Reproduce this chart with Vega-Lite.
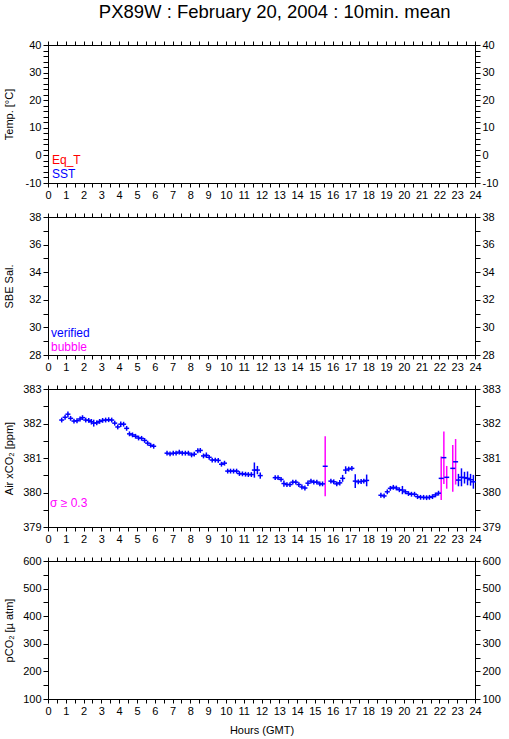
{
  "$schema": "https://vega.github.io/schema/vega-lite/v6.json",
  "padding": {"left": 2, "top": 3, "right": 5, "bottom": 5},
  "title": {"text": "PX89W : February 20, 2004 : 10min. mean", "fontSize": 18.5, "font": "Liberation Sans", "fontWeight": "normal", "anchor": "middle", "dx": 23, "offset": 17, "color": "#000"},
  "spacing": 34,
  "bounds": "flush",
  "resolve": {"scale": {"color": "independent", "x": "independent", "y": "independent"}, "legend": {"color": "independent"}},
  "config": {
    "font": "Liberation Sans",
    "view": {"stroke": "#000", "strokeWidth": 1},
    "axis": {"grid": false, "domainColor": "#000", "tickColor": "#000", "labelColor": "#000", "titleColor": "#000", "labelFont": "Liberation Sans", "titleFont": "Liberation Sans", "labelFontSize": 11, "titleFontSize": 11, "titleFontWeight": "normal", "tickSize": 5, "labelPadding": 2, "labelFlush": false, "labelOverlap": false, "domainWidth": 1, "tickWidth": 1},
    "legend": {"orient": "bottom-left", "title": null, "symbolType": "circle", "symbolSize": 0, "symbolStrokeWidth": 0, "symbolOpacity": 0, "labelOffset": 0, "padding": 0, "offset": 3, "rowPadding": 2, "labelFontSize": 12, "labelFont": "Liberation Sans"}
  },
  "vconcat": [
    {
      "width": 427, "height": 138,
      "data": {"values": [{"series": "Eq_T", "hour": null, "value": null}, {"series": "SST", "hour": null, "value": null}]},
      "layer": [
        {"mark": {"type": "point", "filled": true, "size": 0},
         "encoding": {
           "x": {"field": "hour", "type": "quantitative", "scale": {"domain": [0, 24], "nice": false, "zero": false},
                 "axis": {"orient": "bottom", "title": null, "tickSize": 4, "values": [0,0.5,1,1.5,2,2.5,3,3.5,4,4.5,5,5.5,6,6.5,7,7.5,8,8.5,9,9.5,10,10.5,11,11.5,12,12.5,13,13.5,14,14.5,15,15.5,16,16.5,17,17.5,18,18.5,19,19.5,20,20.5,21,21.5,22,22.5,23,23.5,24], "labelExpr": "datum.value % 1 === 0 ? '' + datum.value : ''"}},
           "y": {"field": "value", "type": "quantitative", "scale": {"domain": [-10, 40], "nice": false, "zero": false},
                 "axis": {"orient": "left", "title": "Temp. [°C]", "titleX": -34, "titleY": 69, "titleAngle": -90, "values": [-10,-8,-6,-4,-2,0,2,4,6,8,10,12,14,16,18,20,22,24,26,28,30,32,34,36,38,40], "labelExpr": "datum.value % 10 === 0 ? '' + datum.value : ''"}},
           "color": {"field": "series", "type": "nominal", "scale": {"domain": ["Eq_T", "SST"], "range": ["#ff0000", "#0000ff"]},
                     "legend": {"offset": 3, "symbolType": "circle", "symbolSize": 0, "encode": {"labels": {"update": {"dx": {"value": -11}, "fill": {"signal": "datum.label === 'Eq_T' ? '#ff0000' : '#0000ff'"}}}}}}
         }},
        {"mark": {"type": "point", "opacity": 0},
         "encoding": {
           "x": {"field": "hour", "type": "quantitative", "axis": {"orient": "top", "title": null, "labels": false, "tickSize": 4, "values": [0,0.5,1,1.5,2,2.5,3,3.5,4,4.5,5,5.5,6,6.5,7,7.5,8,8.5,9,9.5,10,10.5,11,11.5,12,12.5,13,13.5,14,14.5,15,15.5,16,16.5,17,17.5,18,18.5,19,19.5,20,20.5,21,21.5,22,22.5,23,23.5,24]}},
           "y": {"field": "value", "type": "quantitative", "axis": {"orient": "right", "title": null, "values": [-10,-8,-6,-4,-2,0,2,4,6,8,10,12,14,16,18,20,22,24,26,28,30,32,34,36,38,40], "labelExpr": "datum.value % 10 === 0 ? '' + datum.value : ''"}}
         }}
      ],
      "resolve": {"axis": {"x": "independent", "y": "independent"}}
    },
    {
      "width": 427, "height": 138,
      "data": {"values": [{"series": "verified", "hour": null, "value": null}, {"series": "bubble", "hour": null, "value": null}]},
      "layer": [
        {"mark": {"type": "point", "filled": true, "size": 0},
         "encoding": {
           "x": {"field": "hour", "type": "quantitative", "scale": {"domain": [0, 24], "nice": false, "zero": false},
                 "axis": {"orient": "bottom", "title": null, "tickSize": 4, "values": [0,0.5,1,1.5,2,2.5,3,3.5,4,4.5,5,5.5,6,6.5,7,7.5,8,8.5,9,9.5,10,10.5,11,11.5,12,12.5,13,13.5,14,14.5,15,15.5,16,16.5,17,17.5,18,18.5,19,19.5,20,20.5,21,21.5,22,22.5,23,23.5,24], "labelExpr": "datum.value % 1 === 0 ? '' + datum.value : ''"}},
           "y": {"field": "value", "type": "quantitative", "scale": {"domain": [28, 38], "nice": false, "zero": false},
                 "axis": {"orient": "left", "title": "SBE Sal.", "titleX": -34, "titleY": 69, "titleAngle": -90, "values": [28,29,30,31,32,33,34,35,36,37,38], "labelExpr": "datum.value % 2 === 0 ? '' + datum.value : ''"}},
           "color": {"field": "series", "type": "nominal", "scale": {"domain": ["verified", "bubble"], "range": ["#0000ff", "#ff00ff"]},
                     "legend": {"offset": 2, "symbolType": "circle", "symbolSize": 0, "encode": {"labels": {"update": {"dx": {"value": -11}, "fill": {"signal": "datum.label === 'verified' ? '#0000ff' : '#ff00ff'"}}}}}}
         }},
        {"mark": {"type": "point", "opacity": 0},
         "encoding": {
           "x": {"field": "hour", "type": "quantitative", "axis": {"orient": "top", "title": null, "labels": false, "tickSize": 4, "values": [0,0.5,1,1.5,2,2.5,3,3.5,4,4.5,5,5.5,6,6.5,7,7.5,8,8.5,9,9.5,10,10.5,11,11.5,12,12.5,13,13.5,14,14.5,15,15.5,16,16.5,17,17.5,18,18.5,19,19.5,20,20.5,21,21.5,22,22.5,23,23.5,24]}},
           "y": {"field": "value", "type": "quantitative", "axis": {"orient": "right", "title": null, "values": [28,29,30,31,32,33,34,35,36,37,38], "labelExpr": "datum.value % 2 === 0 ? '' + datum.value : ''"}}
         }}
      ],
      "resolve": {"axis": {"x": "independent", "y": "independent"}}
    },
    {
      "width": 427, "height": 138,
      "data": {"values": [
        {"h": 0.77, "v": 382.10, "sd": 0.07, "q": "normal"},
        {"h": 0.96, "v": 382.18, "sd": 0.07, "q": "normal"},
        {"h": 1.12, "v": 382.27, "sd": 0.08, "q": "normal"},
        {"h": 1.27, "v": 382.15, "sd": 0.07, "q": "normal"},
        {"h": 1.46, "v": 382.07, "sd": 0.07, "q": "normal"},
        {"h": 1.63, "v": 382.08, "sd": 0.07, "q": "normal"},
        {"h": 1.80, "v": 382.13, "sd": 0.07, "q": "normal"},
        {"h": 1.94, "v": 382.17, "sd": 0.07, "q": "normal"},
        {"h": 2.12, "v": 382.10, "sd": 0.07, "q": "normal"},
        {"h": 2.29, "v": 382.09, "sd": 0.07, "q": "normal"},
        {"h": 2.44, "v": 382.05, "sd": 0.08, "q": "normal"},
        {"h": 2.57, "v": 382.01, "sd": 0.10, "q": "normal"},
        {"h": 2.74, "v": 382.02, "sd": 0.07, "q": "normal"},
        {"h": 2.90, "v": 382.06, "sd": 0.07, "q": "normal"},
        {"h": 3.07, "v": 382.09, "sd": 0.07, "q": "normal"},
        {"h": 3.24, "v": 382.10, "sd": 0.07, "q": "normal"},
        {"h": 3.41, "v": 382.11, "sd": 0.07, "q": "normal"},
        {"h": 3.58, "v": 382.10, "sd": 0.07, "q": "normal"},
        {"h": 3.75, "v": 382.01, "sd": 0.07, "q": "normal"},
        {"h": 3.92, "v": 381.90, "sd": 0.07, "q": "normal"},
        {"h": 4.09, "v": 381.98, "sd": 0.08, "q": "normal"},
        {"h": 4.25, "v": 381.98, "sd": 0.07, "q": "normal"},
        {"h": 4.42, "v": 381.86, "sd": 0.07, "q": "normal"},
        {"h": 4.58, "v": 381.70, "sd": 0.07, "q": "normal"},
        {"h": 4.75, "v": 381.67, "sd": 0.07, "q": "normal"},
        {"h": 4.92, "v": 381.63, "sd": 0.07, "q": "normal"},
        {"h": 5.09, "v": 381.58, "sd": 0.07, "q": "normal"},
        {"h": 5.26, "v": 381.57, "sd": 0.07, "q": "normal"},
        {"h": 5.43, "v": 381.51, "sd": 0.07, "q": "normal"},
        {"h": 5.60, "v": 381.43, "sd": 0.07, "q": "normal"},
        {"h": 5.77, "v": 381.37, "sd": 0.07, "q": "normal"},
        {"h": 5.94, "v": 381.34, "sd": 0.07, "q": "normal"},
        {"h": 6.69, "v": 381.14, "sd": 0.07, "q": "normal"},
        {"h": 6.86, "v": 381.12, "sd": 0.07, "q": "normal"},
        {"h": 7.04, "v": 381.14, "sd": 0.07, "q": "normal"},
        {"h": 7.20, "v": 381.14, "sd": 0.07, "q": "normal"},
        {"h": 7.38, "v": 381.17, "sd": 0.07, "q": "normal"},
        {"h": 7.55, "v": 381.14, "sd": 0.07, "q": "normal"},
        {"h": 7.72, "v": 381.14, "sd": 0.07, "q": "normal"},
        {"h": 7.89, "v": 381.14, "sd": 0.07, "q": "normal"},
        {"h": 8.07, "v": 381.09, "sd": 0.07, "q": "normal"},
        {"h": 8.22, "v": 381.11, "sd": 0.07, "q": "normal"},
        {"h": 8.42, "v": 381.21, "sd": 0.07, "q": "normal"},
        {"h": 8.56, "v": 381.22, "sd": 0.07, "q": "normal"},
        {"h": 8.74, "v": 381.06, "sd": 0.07, "q": "normal"},
        {"h": 8.90, "v": 381.08, "sd": 0.08, "q": "normal"},
        {"h": 9.06, "v": 381.02, "sd": 0.07, "q": "normal"},
        {"h": 9.23, "v": 380.94, "sd": 0.07, "q": "normal"},
        {"h": 9.40, "v": 380.94, "sd": 0.07, "q": "normal"},
        {"h": 9.57, "v": 380.93, "sd": 0.07, "q": "normal"},
        {"h": 9.75, "v": 380.82, "sd": 0.07, "q": "normal"},
        {"h": 9.92, "v": 380.85, "sd": 0.07, "q": "normal"},
        {"h": 10.10, "v": 380.62, "sd": 0.07, "q": "normal"},
        {"h": 10.26, "v": 380.62, "sd": 0.07, "q": "normal"},
        {"h": 10.43, "v": 380.62, "sd": 0.07, "q": "normal"},
        {"h": 10.60, "v": 380.62, "sd": 0.07, "q": "normal"},
        {"h": 10.76, "v": 380.55, "sd": 0.07, "q": "normal"},
        {"h": 10.93, "v": 380.54, "sd": 0.07, "q": "normal"},
        {"h": 11.10, "v": 380.53, "sd": 0.07, "q": "normal"},
        {"h": 11.26, "v": 380.52, "sd": 0.07, "q": "normal"},
        {"h": 11.43, "v": 380.52, "sd": 0.07, "q": "normal"},
        {"h": 11.60, "v": 380.65, "sd": 0.22, "q": "normal"},
        {"h": 11.77, "v": 380.65, "sd": 0.12, "q": "normal"},
        {"h": 11.93, "v": 380.49, "sd": 0.09, "q": "normal"},
        {"h": 12.77, "v": 380.43, "sd": 0.07, "q": "normal"},
        {"h": 12.93, "v": 380.43, "sd": 0.07, "q": "normal"},
        {"h": 13.10, "v": 380.38, "sd": 0.07, "q": "normal"},
        {"h": 13.26, "v": 380.26, "sd": 0.09, "q": "normal"},
        {"h": 13.43, "v": 380.23, "sd": 0.07, "q": "normal"},
        {"h": 13.60, "v": 380.23, "sd": 0.07, "q": "normal"},
        {"h": 13.76, "v": 380.30, "sd": 0.07, "q": "normal"},
        {"h": 13.93, "v": 380.30, "sd": 0.07, "q": "normal"},
        {"h": 14.10, "v": 380.23, "sd": 0.07, "q": "normal"},
        {"h": 14.27, "v": 380.16, "sd": 0.07, "q": "normal"},
        {"h": 14.44, "v": 380.13, "sd": 0.07, "q": "normal"},
        {"h": 14.61, "v": 380.27, "sd": 0.08, "q": "normal"},
        {"h": 14.78, "v": 380.33, "sd": 0.07, "q": "normal"},
        {"h": 14.94, "v": 380.30, "sd": 0.07, "q": "normal"},
        {"h": 15.11, "v": 380.30, "sd": 0.07, "q": "normal"},
        {"h": 15.28, "v": 380.25, "sd": 0.07, "q": "normal"},
        {"h": 15.43, "v": 380.25, "sd": 0.07, "q": "normal"},
        {"h": 15.58, "v": 380.76, "sd": 0.87, "q": "σ ≥ 0.3"},
        {"h": 15.90, "v": 380.33, "sd": 0.07, "q": "normal"},
        {"h": 16.06, "v": 380.31, "sd": 0.07, "q": "normal"},
        {"h": 16.23, "v": 380.25, "sd": 0.07, "q": "normal"},
        {"h": 16.40, "v": 380.28, "sd": 0.08, "q": "normal"},
        {"h": 16.56, "v": 380.41, "sd": 0.10, "q": "normal"},
        {"h": 16.73, "v": 380.65, "sd": 0.11, "q": "normal"},
        {"h": 16.90, "v": 380.68, "sd": 0.07, "q": "normal"},
        {"h": 17.08, "v": 380.70, "sd": 0.07, "q": "normal"},
        {"h": 17.27, "v": 380.33, "sd": 0.20, "q": "normal"},
        {"h": 17.44, "v": 380.31, "sd": 0.07, "q": "normal"},
        {"h": 17.60, "v": 380.32, "sd": 0.07, "q": "normal"},
        {"h": 17.75, "v": 380.33, "sd": 0.07, "q": "normal"},
        {"h": 17.91, "v": 380.35, "sd": 0.17, "q": "normal"},
        {"h": 18.71, "v": 379.92, "sd": 0.07, "q": "normal"},
        {"h": 18.89, "v": 379.90, "sd": 0.07, "q": "normal"},
        {"h": 19.07, "v": 380.02, "sd": 0.07, "q": "normal"},
        {"h": 19.24, "v": 380.12, "sd": 0.07, "q": "normal"},
        {"h": 19.41, "v": 380.15, "sd": 0.07, "q": "normal"},
        {"h": 19.58, "v": 380.13, "sd": 0.07, "q": "normal"},
        {"h": 19.75, "v": 380.08, "sd": 0.07, "q": "normal"},
        {"h": 19.92, "v": 380.07, "sd": 0.12, "q": "normal"},
        {"h": 20.09, "v": 380.02, "sd": 0.07, "q": "normal"},
        {"h": 20.26, "v": 379.97, "sd": 0.07, "q": "normal"},
        {"h": 20.43, "v": 379.95, "sd": 0.07, "q": "normal"},
        {"h": 20.60, "v": 379.95, "sd": 0.07, "q": "normal"},
        {"h": 20.77, "v": 379.88, "sd": 0.07, "q": "normal"},
        {"h": 20.94, "v": 379.86, "sd": 0.07, "q": "normal"},
        {"h": 21.11, "v": 379.86, "sd": 0.07, "q": "normal"},
        {"h": 21.28, "v": 379.85, "sd": 0.07, "q": "normal"},
        {"h": 21.44, "v": 379.86, "sd": 0.07, "q": "normal"},
        {"h": 21.61, "v": 379.88, "sd": 0.07, "q": "normal"},
        {"h": 21.78, "v": 379.93, "sd": 0.07, "q": "normal"},
        {"h": 21.95, "v": 379.98, "sd": 0.07, "q": "normal"},
        {"h": 22.10, "v": 380.41, "sd": 0.63, "q": "σ ≥ 0.3"},
        {"h": 22.25, "v": 381.01, "sd": 0.76, "q": "σ ≥ 0.3"},
        {"h": 22.41, "v": 380.44, "sd": 0.33, "q": "σ ≥ 0.3"},
        {"h": 22.75, "v": 380.70, "sd": 0.68, "q": "σ ≥ 0.3"},
        {"h": 22.91, "v": 380.89, "sd": 0.66, "q": "σ ≥ 0.3"},
        {"h": 23.07, "v": 380.36, "sd": 0.18, "q": "normal"},
        {"h": 23.24, "v": 380.44, "sd": 0.26, "q": "normal"},
        {"h": 23.41, "v": 380.43, "sd": 0.17, "q": "normal"},
        {"h": 23.58, "v": 380.41, "sd": 0.20, "q": "normal"},
        {"h": 23.75, "v": 380.37, "sd": 0.17, "q": "normal"},
        {"h": 23.91, "v": 380.31, "sd": 0.20, "q": "normal"}
      ]},
      "layer": [
        {"mark": {"type": "errorbar", "thickness": 1.5},
         "encoding": {
           "x": {"field": "h", "type": "quantitative", "scale": {"domain": [0, 24], "nice": false, "zero": false},
                 "axis": {"orient": "bottom", "title": null, "tickSize": 4, "values": [0,0.5,1,1.5,2,2.5,3,3.5,4,4.5,5,5.5,6,6.5,7,7.5,8,8.5,9,9.5,10,10.5,11,11.5,12,12.5,13,13.5,14,14.5,15,15.5,16,16.5,17,17.5,18,18.5,19,19.5,20,20.5,21,21.5,22,22.5,23,23.5,24], "labelExpr": "datum.value % 1 === 0 ? '' + datum.value : ''"}},
           "y": {"field": "v", "type": "quantitative", "scale": {"domain": [379, 383], "nice": false, "zero": false},
                 "axis": {"orient": "left", "title": "Air xCO₂ [ppm]", "titleX": -34, "titleY": 69, "titleAngle": -90, "values": [379,379.5,380,380.5,381,381.5,382,382.5,383], "labelExpr": "datum.value % 1 === 0 ? '' + datum.value : ''"}},
           "yError": {"field": "sd"},
           "color": {"field": "q", "type": "nominal", "scale": {"domain": ["normal", "σ ≥ 0.3"], "range": ["#0000ff", "#ff00ff"]},
                     "legend": {"values": ["σ ≥ 0.3"], "offset": 3, "symbolType": "circle", "symbolSize": 0, "labelColor": "#ff00ff", "encode": {"labels": {"update": {"dx": {"value": -13}, "dy": {"value": -21}}}}}}
         }},
        {"mark": {"type": "point", "shape": "M-1,0H1", "filled": false, "size": 25, "strokeWidth": 1.5, "color": "#0000ff", "opacity": 1},
         "encoding": {
           "x": {"field": "h", "type": "quantitative", "axis": null},
           "y": {"field": "v", "type": "quantitative", "axis": null}
         }},
        {"mark": {"type": "point", "opacity": 0},
         "encoding": {
           "x": {"field": "h", "type": "quantitative", "axis": {"orient": "top", "title": null, "labels": false, "tickSize": 4, "values": [0,0.5,1,1.5,2,2.5,3,3.5,4,4.5,5,5.5,6,6.5,7,7.5,8,8.5,9,9.5,10,10.5,11,11.5,12,12.5,13,13.5,14,14.5,15,15.5,16,16.5,17,17.5,18,18.5,19,19.5,20,20.5,21,21.5,22,22.5,23,23.5,24]}},
           "y": {"field": "v", "type": "quantitative", "axis": {"orient": "right", "title": null, "values": [379,379.5,380,380.5,381,381.5,382,382.5,383], "labelExpr": "datum.value % 1 === 0 ? '' + datum.value : ''"}}
         }}
      ],
      "resolve": {"axis": {"x": "independent", "y": "independent"}}
    },
    {
      "width": 427, "height": 138,
      "data": {"values": [{"hour": null, "value": null}]},
      "layer": [
        {"mark": {"type": "point", "filled": true},
         "encoding": {
           "x": {"field": "hour", "type": "quantitative", "scale": {"domain": [0, 24], "nice": false, "zero": false},
                 "axis": {"orient": "bottom", "title": "Hours (GMT)", "titlePadding": 8, "tickSize": 4, "values": [0,0.5,1,1.5,2,2.5,3,3.5,4,4.5,5,5.5,6,6.5,7,7.5,8,8.5,9,9.5,10,10.5,11,11.5,12,12.5,13,13.5,14,14.5,15,15.5,16,16.5,17,17.5,18,18.5,19,19.5,20,20.5,21,21.5,22,22.5,23,23.5,24], "labelExpr": "datum.value % 1 === 0 ? '' + datum.value : ''"}},
           "y": {"field": "value", "type": "quantitative", "scale": {"domain": [100, 600], "nice": false, "zero": false},
                 "axis": {"orient": "left", "title": "pCO₂ [µ atm]", "titleX": -34, "titleY": 69, "titleAngle": -90, "values": [100,150,200,250,300,350,400,450,500,550,600], "labelExpr": "datum.value % 100 === 0 ? '' + datum.value : ''"}}
         }},
        {"mark": {"type": "point", "opacity": 0},
         "encoding": {
           "x": {"field": "hour", "type": "quantitative", "axis": {"orient": "top", "title": null, "labels": false, "tickSize": 4, "values": [0,0.5,1,1.5,2,2.5,3,3.5,4,4.5,5,5.5,6,6.5,7,7.5,8,8.5,9,9.5,10,10.5,11,11.5,12,12.5,13,13.5,14,14.5,15,15.5,16,16.5,17,17.5,18,18.5,19,19.5,20,20.5,21,21.5,22,22.5,23,23.5,24]}},
           "y": {"field": "value", "type": "quantitative", "axis": {"orient": "right", "title": null, "values": [100,150,200,250,300,350,400,450,500,550,600], "labelExpr": "datum.value % 100 === 0 ? '' + datum.value : ''"}}
         }}
      ],
      "resolve": {"axis": {"x": "independent", "y": "independent"}}
    }
  ]
}
